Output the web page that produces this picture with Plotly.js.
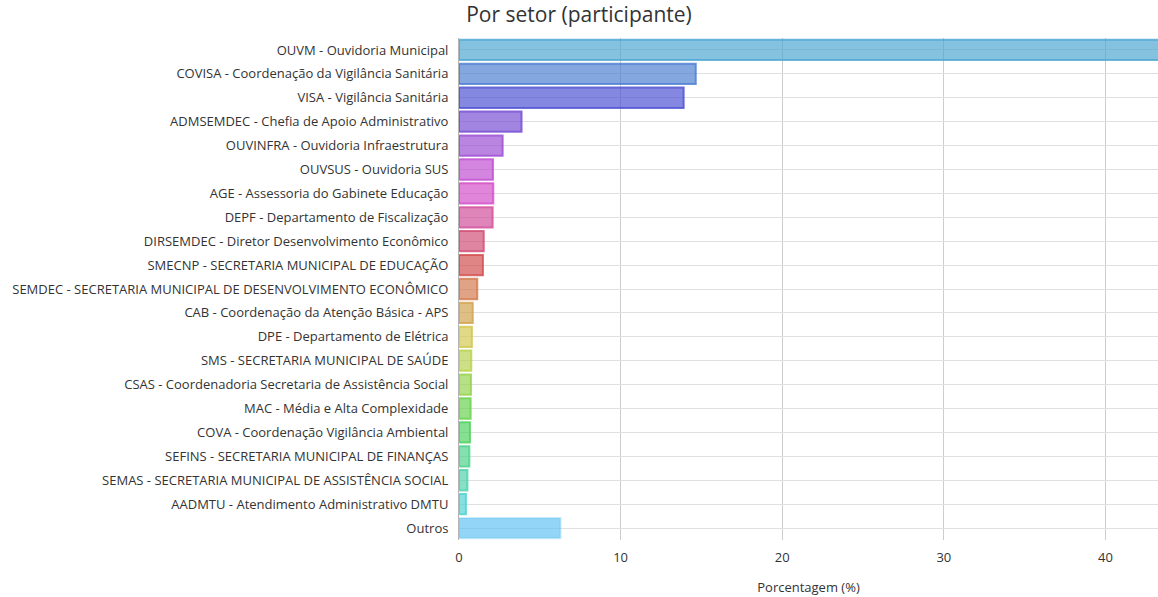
<!DOCTYPE html>
<html>
<head>
<meta charset="utf-8">
<script src="https://cdn.plot.ly/plotly-3.0.1.min.js"></script>
<style>html,body{margin:0;padding:0;background:#fff;overflow:hidden}#chart{width:1158px;height:597px}</style>
</head>
<body>
<div id="chart"></div>
<script>
const sectors = [
  "OUVM - Ouvidoria Municipal",
  "COVISA - Coordenação da Vigilância Sanitária",
  "VISA - Vigilância Sanitária",
  "ADMSEMDEC - Chefia de Apoio Administrativo",
  "OUVINFRA - Ouvidoria Infraestrutura",
  "OUVSUS - Ouvidoria SUS",
  "AGE - Assessoria do Gabinete Educação",
  "DEPF - Departamento de Fiscalização",
  "DIRSEMDEC - Diretor Desenvolvimento Econômico",
  "SMECNP - SECRETARIA MUNICIPAL DE EDUCAÇÃO",
  "SEMDEC - SECRETARIA MUNICIPAL DE DESENVOLVIMENTO ECONÔMICO",
  "CAB - Coordenação da Atenção Básica - APS",
  "DPE - Departamento de Elétrica",
  "SMS - SECRETARIA MUNICIPAL DE SAÚDE",
  "CSAS - Coordenadoria Secretaria de Assistência Social",
  "MAC - Média e Alta Complexidade",
  "COVA - Coordenação Vigilância Ambiental",
  "SEFINS - SECRETARIA MUNICIPAL DE FINANÇAS",
  "SEMAS - SECRETARIA MUNICIPAL DE ASSISTÊNCIA SOCIAL",
  "AADMTU - Atendimento Administrativo DMTU",
  "Outros"
];
const percentages = [45.0, 14.65, 13.9, 3.87, 2.7, 2.1, 2.12, 2.08, 1.53, 1.48, 1.13, 0.85, 0.8, 0.76, 0.74, 0.72, 0.68, 0.64, 0.52, 0.43, 6.28];

const barHues = [200, 218, 238, 258, 275, 292, 305, 325, 342, 0, 20, 38, 55, 72, 88, 108, 128, 148, 162, 180, 200];

const fillColors = barHues.map((h, i) => i === barHues.length - 1 ? 'hsla(200,85%,66%,0.68)' : `hsla(${h},60%,56%,0.68)`);
const lineColors = barHues.map((h, i) => i === barHues.length - 1 ? 'hsla(200,85%,66%,0.3)' : `hsla(${h},60%,56%,0.8)`);

const trace = {
  type: 'bar',
  orientation: 'h',
  x: percentages,
  y: sectors,
  marker: { color: fillColors, line: { color: lineColors, width: 2 } },
  hoverinfo: 'x+y'
};

const layout = {
  width: 1158,
  height: 597,
  margin: { l: 459, r: 0, t: 38, b: 57 },
  paper_bgcolor: '#fff',
  plot_bgcolor: '#fff',
  font: { family: 'Open Sans, sans-serif', size: 13, color: '#333' },
  title: { text: 'Por setor (participante)', x: 0.5, xanchor: 'center', y: 0.975, yanchor: 'middle', font: { size: 21, color: '#333' } },
  bargap: 0.15,
  showlegend: false,
  xaxis: {
    range: [0, 43.25],
    tickvals: [0, 10, 20, 30, 40],
    gridcolor: '#cdcdcd',
    zeroline: false,
    showline: false,
    ticks: 'outside',
    ticklen: 5,
    tickcolor: 'rgba(0,0,0,0)',
    title: { text: 'Porcentagem (%)', font: { size: 13, color: '#333' }, standoff: 18 },
    tickfont: { size: 13, color: '#333' }
  },
  yaxis: {
    type: 'category',
    autorange: 'reversed',
    gridcolor: '#e0e0e0',
    showline: true,
    linecolor: '#b5b5b5',
    linewidth: 1,
    ticklabelstandoff: 7,
    tickfont: { size: 13, color: '#333' }
  }
};

Plotly.newPlot('chart', [trace], layout, { displayModeBar: false });
</script>
</body>
</html>
